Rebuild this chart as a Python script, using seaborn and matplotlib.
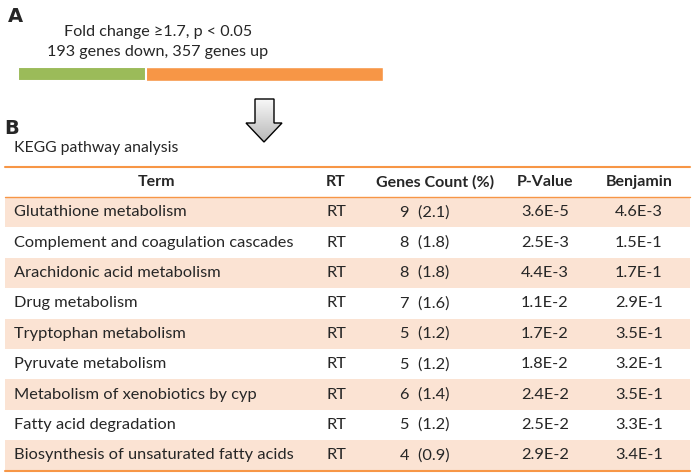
import matplotlib
matplotlib.use("Agg")
import matplotlib.pyplot as plt
from matplotlib.patches import Polygon
import numpy as np
import seaborn as sns

# panel A
down_up_labels = ["down", "up"]
down_up_counts = [193, 357]
bar_colors = ["#9bbb59", "#f79646"]

# panel B table
header = ["Term", "RT", "Genes Count (%)", "P-Value", "Benjamin"]
terms = [
    "Glutathione metabolism",
    "Complement and coagulation cascades",
    "Arachidonic acid metabolism",
    "Drug metabolism",
    "Tryptophan metabolism",
    "Pyruvate metabolism",
    "Metabolism of xenobiotics by cyp",
    "Fatty acid degradation",
    "Biosynthesis of unsaturated fatty acids",
]
gene_counts = [9, 8, 8, 7, 5, 5, 6, 5, 4]
gene_pct = [2.1, 1.8, 1.8, 1.6, 1.2, 1.2, 1.4, 1.2, 0.9]
p_values = ["3.6E-5", "2.5E-3", "4.4E-3", "1.1E-2", "1.7E-2", "1.8E-2", "2.4E-2", "2.5E-2", "2.9E-2"]
benjamin = ["4.6E-3", "1.5E-1", "1.7E-1", "2.9E-1", "3.5E-1", "3.2E-1", "3.5E-1", "3.3E-1", "3.4E-1"]

sns.set_style("white")
plt.rcParams["font.family"] = ["Lato", "DejaVu Sans"]

W, H = 693, 473
fig = plt.figure(figsize=(W / 100, H / 100), dpi=100)
ax = fig.add_axes([0, 0, 1, 1])
ax.set_xlim(0, W)
ax.set_ylim(H, 0)
ax.axis("off")

fs = 11.8
orange = "#f79646"
shade = "#fbe3d3"

# panel labels
ax.text(8, 16, "A", fontsize=14, fontweight="bold", va="center", ha="left", family="DejaVu Sans")
ax.text(4, 128, "B", fontsize=14, fontweight="bold", va="center", ha="left", family="DejaVu Sans")

ax.text(158, 32, "Fold change \u22651.7, p < 0.05", fontsize=11.6, ha="center", va="center")
ax.text(158, 52, f"{down_up_counts[0]} genes down, {down_up_counts[1]} genes up",
        fontsize=11.6, ha="center", va="center")

# stacked bar (down/up)
bax = fig.add_axes([18 / W, 1 - 81 / H, 365 / W, 14 / H])
total = sum(down_up_counts)
sns.barplot(x=[total], y=[""], color=bar_colors[1], orient="h", width=1, saturation=1, ax=bax)
sns.barplot(x=[down_up_counts[0]], y=[""], color=bar_colors[0], orient="h", width=1,
            saturation=1, edgecolor="white", linewidth=1.5, ax=bax)
bax.set_xlim(0, total)
bax.axis("off")

# arrow with gradient
arrow_pts = [(255, 99), (274, 99), (274, 123), (282, 123), (264, 142), (246, 123), (255, 123)]
poly = Polygon(arrow_pts, closed=True, facecolor="none", edgecolor="black", linewidth=1.0, zorder=3)
ax.add_patch(poly)
grad = np.linspace(0.97, 0.72, 100).reshape(-1, 1)
im = ax.imshow(grad, extent=(246, 282, 142, 99), cmap="gray", vmin=0, vmax=1, aspect="auto", zorder=2)
im.set_clip_path(poly)
ax.set_xlim(0, W)
ax.set_ylim(H, 0)

ax.text(14, 148, "KEGG pathway analysis", fontsize=11.3, ha="left", va="center")

# table geometry
x0, x1 = 5, 690
top = 167
head_bottom = 197
row_h = 30.4
col_x = [157, 336, 435, 545, 639]

ax.plot([x0, x1], [top, top], color=orange, lw=1.5)
for j, h in enumerate(header):
    ax.text(col_x[j], (top + head_bottom) / 2, h, fontsize=11.5, fontweight="bold",
            ha="center", va="center")
ax.plot([x0, x1], [head_bottom, head_bottom], color=orange, lw=1.0)

for i, term in enumerate(terms):
    y_top = head_bottom + i * row_h
    yc = y_top + row_h / 2
    if i % 2 == 0:
        ax.axhspan(y_top, y_top + row_h, xmin=x0 / W, xmax=x1 / W, color=shade, lw=0, zorder=0)
    ax.text(14, yc, term, fontsize=fs, ha="left", va="center")
    ax.text(col_x[1], yc, "RT", fontsize=fs, ha="center", va="center")
    ax.text(400, yc, f"{gene_counts[i]}  ({gene_pct[i]})", fontsize=fs, ha="left", va="center")
    ax.text(col_x[3], yc, p_values[i], fontsize=fs, ha="center", va="center")
    ax.text(col_x[4], yc, benjamin[i], fontsize=fs, ha="center", va="center")

bottom = head_bottom + len(terms) * row_h
ax.plot([x0, x1], [bottom, bottom], color=orange, lw=1.5)

fig.savefig("out.png", dpi=100)
